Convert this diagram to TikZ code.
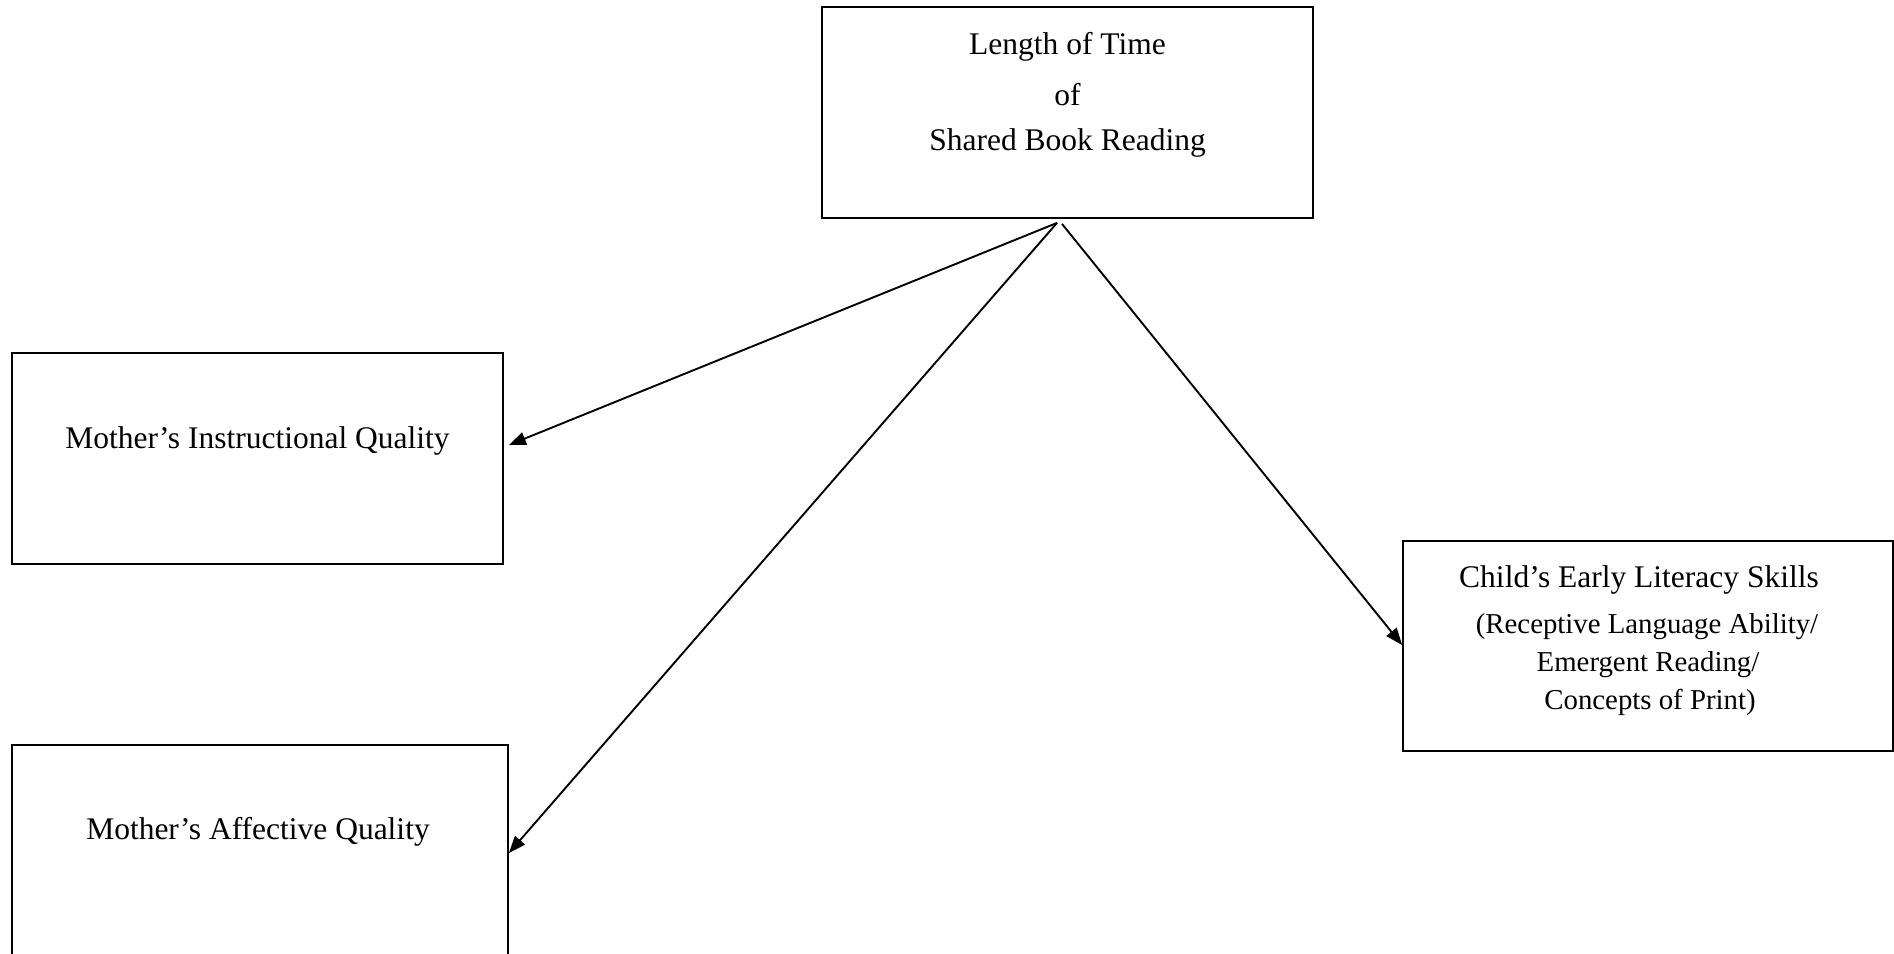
\documentclass[tikz,border=0pt]{standalone}
\usepackage{fontspec}
\setmainfont{Liberation Serif}
\usetikzlibrary{arrows.meta,calc}

\tikzset{
  box/.style={draw=black, line width=1.8pt, rectangle, inner sep=0pt, fill=none},
  txt/.style={anchor=base, inner sep=0pt, font=\fontsize{31.5}{38}\selectfont},
  subtxt/.style={anchor=base, inner sep=0pt, font=\fontsize{28.8}{36}\selectfont},
  arr/.style={line width=1.9pt, -{Triangle[length=17pt,width=13pt]}},
}

\begin{document}
\begin{tikzpicture}[x=1pt,y=-1pt]
  \useasboundingbox (0,0) rectangle (1894,953);

  % boxes
  \node[box, minimum width=491pt, minimum height=211pt] (top)   at (1067.5,112.5) {};
  \node[box, minimum width=491pt, minimum height=211pt] (instr) at (257.5,458.5) {};
  \node[box, minimum width=496pt, minimum height=211pt] (affect) at (260,850.5) {};
  \node[box, minimum width=490pt, minimum height=210pt] (child) at (1648,646) {};

  % box texts
  \node[txt] (t1) at (1067.5,54)  {Length of Time};
  \node[txt] (t2) at (1067.5,105) {of};
  \node[txt] (t3) at (1067.5,150) {Shared Book Reading};

  \node[txt] (ti) at (257.5,448) {Mother’s Instructional Quality};
  \node[txt] (ta) at (258,839)   {Mother’s Affective Quality};

  \node[txt]    (c1) at (1639,587) {Child’s Early Literacy Skills};
  \node[subtxt] (c2) at (1647,633) {(Receptive Language Ability/};
  \node[subtxt] (c3) at (1648,671) {Emergent Reading/};
  \node[subtxt] (c4) at (1650,709) {Concepts of Print)};

  % connector end points
  \coordinate (s1) at ($(top.south)+(-10.5,4)$);
  \coordinate (s2) at ($(top.south)+(-5.5,5)$);
  \coordinate (e1) at ($(instr.east)+(5,-13.5)$);
  \coordinate (e2) at ($(affect.east)+(0,2.5)$);
  \coordinate (e3) at ($(child.west)+(0,-1)$);

  % connectors
  \draw[arr] (s1) -- (e1);
  \draw[arr] (s1) -- (e2);
  \draw[arr] (s2) -- (e3);
\end{tikzpicture}
\end{document}
